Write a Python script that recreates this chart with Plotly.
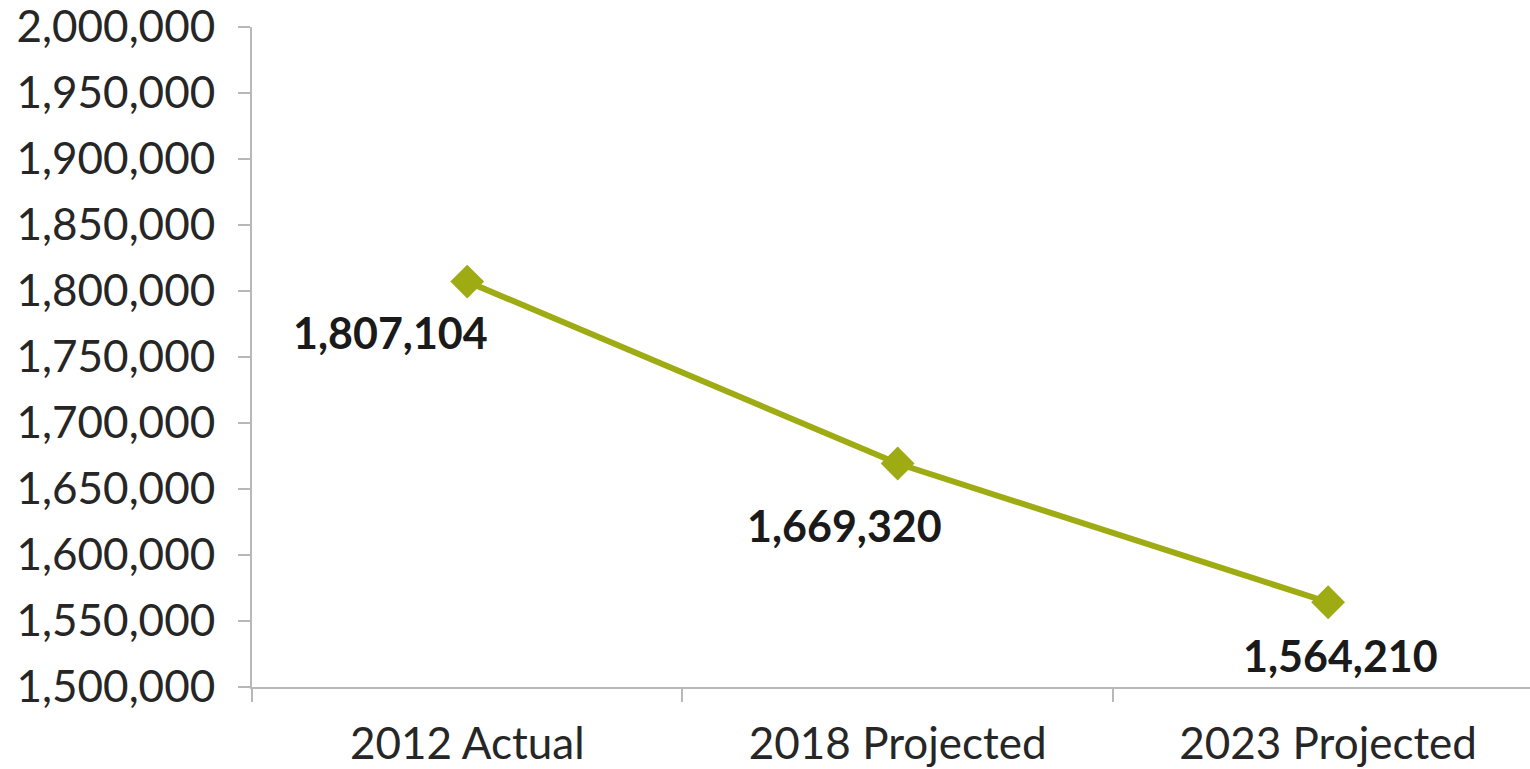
import plotly.graph_objects as go

categories = ["2012 Actual", "2018 Projected", "2023 Projected"]
values = [1807104, 1669320, 1564210]
label_texts = ["1,807,104", "1,669,320", "1,564,210"]
label_dx = [-77, -53, 12]
label_dy = [-51, -62, -53]

line_color = "#9EAB12"
axis_color = "#B8B8B8"

fig = go.Figure()
fig.add_trace(go.Scatter(
    x=categories, y=values, mode="lines+markers",
    line=dict(color=line_color, width=6),
    marker=dict(symbol="diamond", size=26, color=line_color),
    hoverinfo="skip", showlegend=False, cliponaxis=False,
))

for c, v, t, dx, dy in zip(categories, values, label_texts, label_dx, label_dy):
    fig.add_annotation(x=c, y=v, text="<b>" + t + "</b>", showarrow=False,
                       xshift=dx, yshift=dy,
                       font=dict(family="Lato", size=43, color="#1a1a1a"))

fig.update_layout(
    width=1530, height=769,
    margin=dict(l=252, r=0, t=27, b=82),
    plot_bgcolor="white", paper_bgcolor="white",
    font=dict(family="Lato", size=44, color="#262626"),
    xaxis=dict(
        type="category", range=[-0.5, 2.469],
        showline=True, linecolor=axis_color, linewidth=2,
        ticks="outside", tickson="boundaries", ticklen=13, tickcolor=axis_color, tickwidth=2,
        showgrid=False, zeroline=False, automargin=False,
        ticklabelstandoff=17,
        tickfont=dict(family="Lato", size=44, color="#262626"),
    ),
    yaxis=dict(
        range=[1500000, 2000000], dtick=50000, tickformat=",d",
        showline=True, linecolor=axis_color, linewidth=2,
        ticks="outside", ticklen=12, tickcolor=axis_color, tickwidth=2,
        showgrid=False, zeroline=False, automargin=False,
        ticklabelstandoff=14, ticklabeloverflow="allow",
        tickfont=dict(family="Lato", size=44, color="#262626"),
    ),
)

fig.write_html("out.html")
